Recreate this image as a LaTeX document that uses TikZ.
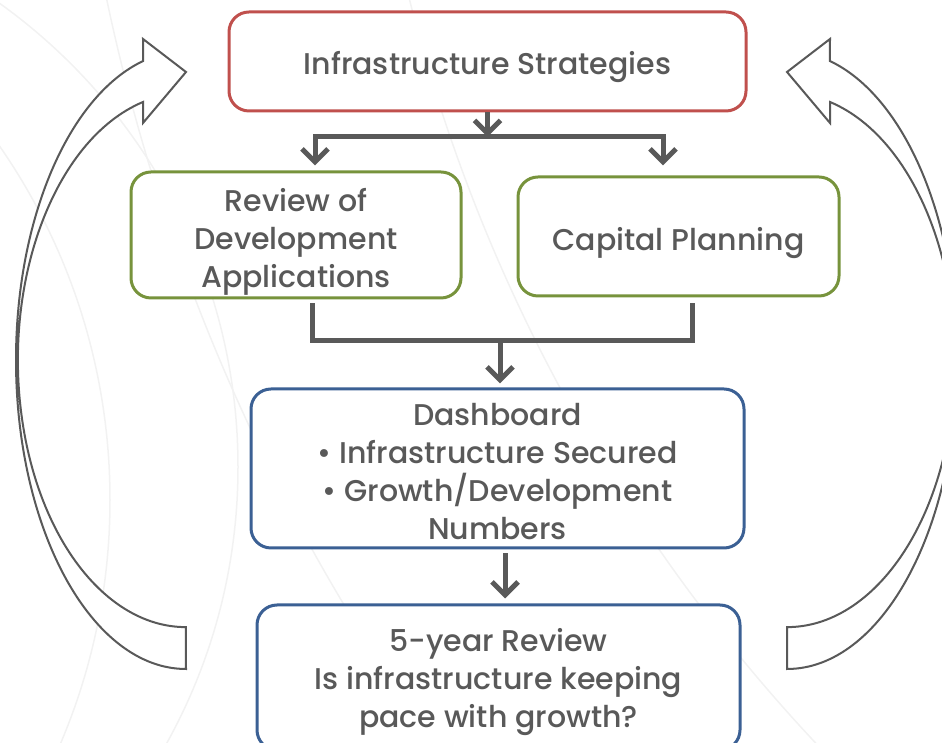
\documentclass[tikz,border=0pt]{standalone}
\usepackage{fontspec}
\setmainfont{Poppins Medium}
\usetikzlibrary{arrows.meta}
\definecolor{txt}{HTML}{595959}
\definecolor{stratred}{HTML}{C0504D}
\definecolor{plangreen}{HTML}{77933C}
\definecolor{dashblue}{HTML}{3B6094}
\begin{document}
\begin{tikzpicture}[x=1pt,y=1pt,>={Straight Barb[length=13pt,width=26pt]},
  box/.style={draw,line width=3pt,rounded corners=20pt,fill=white,text=txt,align=center,
    font=\fontsize{30}{38}\selectfont,inner sep=0pt},
  conn/.style={draw=txt,line width=5pt},
  loop/.style={draw=txt,line width=2pt,fill=white}]
\clip (0,0) rectangle (942,743);
% faint rings in the back
\foreach \cx/\cy/\r in {-332/276/570,-512/243/622,2048/1155/1689,2048/1155/1984}
  \draw[black!5,line width=1.5pt] (\cx,\cy) circle[radius=\r];

% the two loop arrows
\foreach \s in {1,-1}
{
\begin{scope}[xshift=486.5pt,xscale=\s]
\draw[loop] (-300.5,74) arc[start angle=270,end angle=104.6,x radius=170,y radius=309]
  --(-343.5,704)--(-300.5,671)--(-343.5,620)--(-343.5,641)
  arc[start angle=104.8,end angle=270,x radius=168,y radius=267]--cycle;
\end{scope}
}

% the leading \\[..] only pushes each text down a little
\node[box,draw=stratred,minimum width=517pt,minimum height=99pt](strat) at (487.5,681.5){\\[-4pt]Infrastructure Strategies};
\node[box,draw=plangreen,minimum width=330pt,minimum height=126pt](review) at (296,508){\\[-2pt]Review of\\Development\\Applications};
\node[box,draw=plangreen,minimum width=321pt,minimum height=119pt](capital) at (678.5,506.5){\\[-2pt]Capital Planning};
\node[box,draw=dashblue,minimum width=493pt,minimum height=159pt](dash) at (497.5,274.5){\\[-10pt]Dashboard\\\textbullet\ Infrastructure Secured\\\textbullet\ Growth/Development\\Numbers};
\node[box,draw=dashblue,minimum width=483pt,minimum height=145pt](five) at (498.5,65.5){\\[-6pt]5-year Review\\Is infrastructure keeping\\pace with growth?};

\coordinate (split) at (487.5,606);
\coordinate (join) at (500,402);
\draw[conn,->](strat.south)--(split);
\draw[conn,->,shorten >=5pt](split)-|([xshift=19pt]review.north);
\draw[conn,->,shorten >=10pt](split)-|([xshift=-15.5pt]capital.north);
\draw[conn]([xshift=16pt,yshift=-4pt]review.south)|-(join)-|([xshift=13.5pt,yshift=-6pt]capital.south);
\draw[conn,->,shorten >=4pt](join)--(join|-dash.north);
\draw[conn,->,shorten <=4pt,shorten >=5pt]([xshift=7.5pt]dash.south)--([xshift=7.5pt]dash.south|-five.north);

\end{tikzpicture}
\end{document}
